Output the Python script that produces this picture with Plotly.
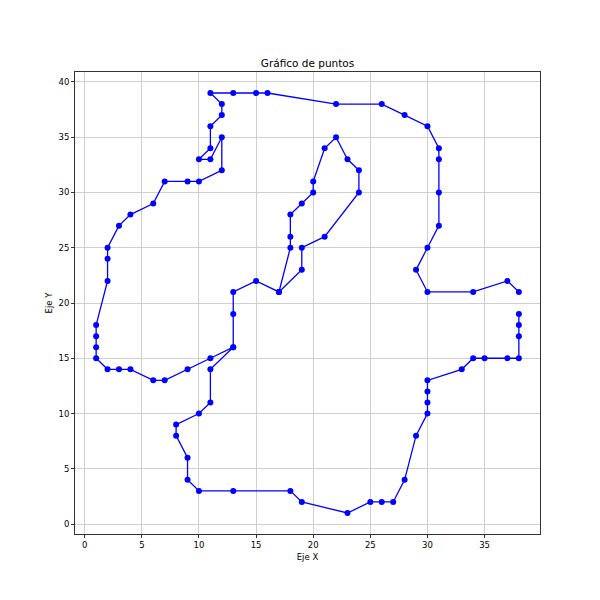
import plotly.graph_objects as go

# Segment 1 (open route)
seg1_x = [38, 38, 38, 38, 37, 35, 34, 33, 30, 30, 30, 30, 29, 28, 27, 26, 25, 23, 19, 18,
          13, 10, 9, 9, 8, 8, 10, 11, 11, 13, 11, 9, 7, 6, 4, 3, 2, 1, 1, 1,
          1, 2, 2, 2, 3, 4, 6, 7, 9, 10, 12, 12, 11, 10, 11, 11, 12, 12, 11, 13,
          15, 16, 22, 26, 28, 30, 31, 31, 31, 31, 30, 29, 30, 34, 37, 38]
seg1_y = [19, 18, 17, 15, 15, 15, 15, 14, 13, 12, 11, 10, 8, 4, 2, 2, 2, 1, 2, 3,
          3, 3, 4, 6, 8, 9, 10, 11, 14, 16, 15, 14, 13, 13, 14, 14, 14, 15, 16, 17,
          18, 22, 24, 25, 27, 28, 29, 31, 31, 31, 32, 35, 33, 33, 34, 36, 37, 38, 39, 39,
          39, 39, 38, 38, 37, 36, 34, 33, 30, 27, 25, 23, 21, 21, 22, 21]

# Segment 2 (inner loop)
seg2_x = [13, 13, 13, 15, 17, 18, 18, 18, 19, 20, 20, 21, 22, 23, 24, 24, 21, 19, 19, 17]
seg2_y = [16, 19, 21, 22, 21, 25, 26, 28, 29, 30, 31, 34, 35, 33, 32, 30, 26, 25, 23, 21]

title_text = "Gráfico de puntos"
x_label = "Eje X"
y_label = "Eje Y"
x_ticks = [0, 5, 10, 15, 20, 25, 30, 35]
y_ticks = [0, 5, 10, 15, 20, 25, 30, 35, 40]

fig = go.Figure()
for xs, ys in [(seg1_x, seg1_y), (seg2_x, seg2_y)]:
    fig.add_trace(go.Scatter(
        x=xs, y=ys, mode="lines+markers",
        line=dict(color="#0000ff", width=1.3),
        marker=dict(color="#0000ff", size=6, line=dict(width=0)),
        showlegend=False, hoverinfo="x+y",
    ))

font_family = "DejaVu Sans, Liberation Sans, sans-serif"
axis_common = dict(
    showline=True, linecolor="#333333", linewidth=0.8, mirror=True,
    showgrid=True, gridcolor="#cfcfcf", gridwidth=0.7,
    zeroline=False, ticks="outside", ticklen=3, tickwidth=0.8, tickcolor="#333333",
    tickfont=dict(family=font_family, size=8.5, color="black"),
    automargin=False,
)

fig.update_layout(
    width=600, height=600,
    paper_bgcolor="white", plot_bgcolor="white",
    margin=dict(l=67, r=68, t=64, b=74),
    font=dict(family=font_family, color="black"),
    title=dict(text=title_text, x=0.5, xanchor="center", xref="paper",
               y=1, yref="paper", yanchor="bottom", pad=dict(b=5),
               font=dict(family=font_family, size=10.5, color="black")),
    xaxis=dict(range=[-0.85, 39.85], tickvals=x_ticks,
               title=dict(text=x_label, standoff=4,
                          font=dict(family=font_family, size=8.5)),
               **axis_common),
    yaxis=dict(range=[-0.9, 40.9], tickvals=y_ticks,
               title=dict(text=y_label, standoff=4,
                          font=dict(family=font_family, size=8.5)),
               **axis_common),
)

fig.write_html("out.html")
